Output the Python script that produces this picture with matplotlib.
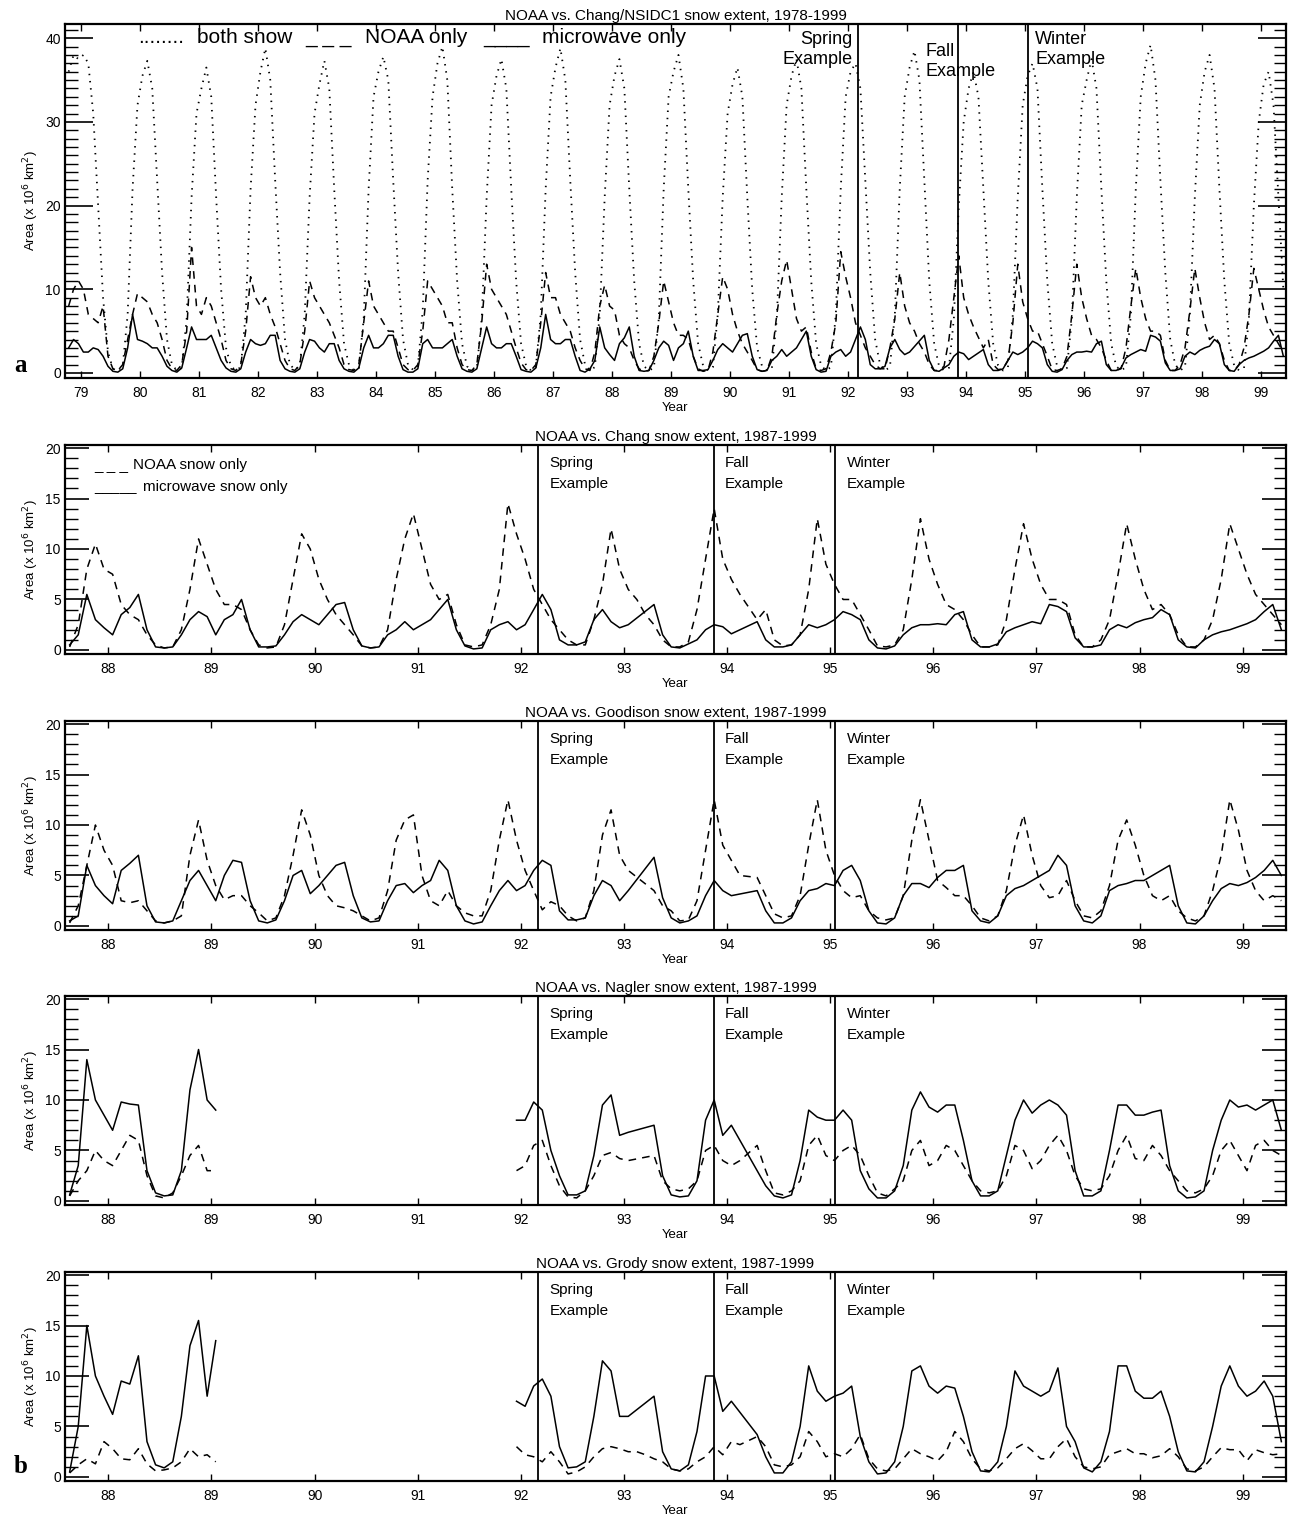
"""NOAA vs. passive-microwave snow extent, monthly series, five panels."""
import matplotlib
matplotlib.use("Agg")
import matplotlib.pyplot as plt
import numpy as np
from matplotlib.ticker import MultipleLocator

plt.rcParams["font.family"] = ["Liberation Sans", "DejaVu Sans"]

# ---- event markers (decimal year, 19xx) ----
SPRING, FALL, WINTER = 92.17, 93.87, 95.05

# ---- panel a: monthly values, Oct 1978 .. May 1999 (x 10^6 km^2) ----
BOTH_SNOW = [
    36, 38, 37.5,                                              # 1978 Oct-Dec
    38, 37, 31, 20, 9, 2.5, 0.5, 0.3, 0.8, 7, 22, 32,          # 1979
    35.5, 37.3, 34, 23, 12, 4, 1, 0.3, 0.6, 6.5, 21, 31,       # 1980
    34, 36.5, 33, 21, 10, 3, 0.8, 0.3, 0.7, 7, 22, 32,         # 1981
    36, 38.8, 35, 23, 12, 4, 1, 0.4, 0.8, 7, 21, 31,           # 1982
    34.5, 37.3, 34, 22, 11, 3.5, 1, 0.3, 0.6, 6.5, 22, 33,     # 1983
    36, 37.8, 35, 23, 12, 4, 1, 0.4, 0.7, 7.5, 23, 33,         # 1984
    37, 39, 35, 22, 11, 3.5, 0.8, 0.3, 0.6, 6.5, 21, 32,       # 1985
    35.5, 37.5, 34, 22, 11, 3.5, 0.9, 0.3, 0.7, 7, 22, 33,     # 1986
    36.5, 38.8, 35, 23, 12, 4, 1, 0.3, 0.7, 7, 21, 32,         # 1987
    35.5, 37.5, 34, 22, 11, 3.5, 0.8, 0.3, 0.6, 6.5, 22, 33,   # 1988
    36, 38, 34, 22, 11, 3.5, 0.9, 0.3, 0.7, 7, 21, 31,         # 1989
    34.5, 36.5, 33, 21, 10, 3, 0.8, 0.3, 0.6, 6.5, 21, 32,     # 1990
    35.5, 37.5, 34, 22, 11, 3.5, 0.9, 0.3, 0.7, 7, 22, 33,     # 1991
    36, 37, 34, 23, 12, 4, 1, 0.3, 0.7, 7, 22, 33,             # 1992
    36.5, 38.5, 35, 23, 11, 3.5, 0.8, 0.3, 0.6, 6.5, 20, 30,   # 1993
    34, 36, 33, 22, 11, 3.5, 0.9, 0.3, 0.7, 7, 21, 32,         # 1994
    35.5, 37, 34, 22, 11, 3.5, 0.8, 0.3, 0.6, 6.5, 21, 32,     # 1995
    35, 37.5, 34, 22, 11, 3.5, 0.8, 0.3, 0.7, 7, 22, 33,       # 1996
    37, 39.2, 35, 23, 12, 4, 1, 0.3, 0.7, 7, 21, 32,           # 1997
    36, 38, 34, 22, 11, 3.5, 0.9, 0.3, 0.6, 6.5, 20, 30,       # 1998
    34.5, 36, 32, 21, 10,                                      # 1999 Jan-May
]
# NOAA-only / microwave-only before the 1987-99 record, Oct 1978 .. Jul 1987
A_NOAA_EARLY = [
    8, 10, 11,
    10, 7, 6.5, 6, 8, 2, 0.5, 0.3, 1, 4, 7, 9.5,
    9, 8.5, 7, 6, 4, 1.5, 0.5, 0.3, 1, 5, 15, 8,
    7, 9, 8, 6, 4, 1.5, 0.5, 0.3, 1, 5, 11.5, 9,
    8, 9, 7, 5.5, 3.5, 1.5, 0.5, 0.3, 1, 5, 11, 9,
    8, 7, 6, 4.5, 3, 1, 0.4, 0.3, 1, 6, 11, 8,
    7, 6, 5, 5, 3, 1, 0.4, 0.3, 1, 5, 11, 10,
    9, 8, 6, 6, 3, 1, 0.4, 0.3, 1, 6, 13, 10,
    9, 8, 7, 5, 3, 1.2, 0.4, 0.3, 1, 6, 12, 9,
    9, 7, 6, 5, 3, 1.5, 0.5,
]
A_MW_EARLY = [
    3, 4, 3.5,
    2.5, 2.5, 3, 2.8, 2, 0.8, 0.2, 0.1, 0.5, 3, 7, 4,
    3.8, 3.5, 3, 3, 2, 0.8, 0.3, 0.1, 0.6, 3, 5.5, 4,
    4, 4, 4.5, 3, 1.5, 0.6, 0.2, 0.1, 0.5, 2.5, 4, 3.5,
    3.3, 3.5, 4.5, 4.5, 1.5, 0.5, 0.2, 0.1, 0.5, 2.5, 4, 3.8,
    3, 2.5, 3.5, 3.5, 1.5, 0.5, 0.2, 0.1, 0.6, 3, 4.5, 3,
    3, 3.5, 4.5, 4.5, 2, 0.4, 0.1, 0.1, 0.5, 3.5, 4, 3,
    3, 3, 3.5, 4, 2, 0.5, 0.2, 0.1, 0.5, 3, 5.5, 3.5,
    3, 3, 3.5, 3.5, 2, 0.4, 0.2, 0.1, 0.6, 3, 7, 4,
    3.5, 3.5, 4, 4, 2, 0.3, 0.1,
]

# ---- panels b-e: monthly values, Aug 1987 .. May 1999 (None = no data) ----
CHANG_NOAA = [
    0.3, 2.5, 8, 10.5, 8,
    7.5, 4.5, 3.5, 3, 1.5, 0.5, 0.2, 0.3, 2, 6, 11, 8.5,
    6, 4.5, 4.5, 4, 2, 0.5, 0.2, 0.3, 2.5, 7, 11.5, 10,
    7, 5, 3.5, 2.5, 1.5, 0.4, 0.2, 0.3, 2, 7, 11, 13.5,
    10, 6.5, 5, 5.5, 2.5, 0.5, 0.3, 0.5, 2.5, 6, 14.5, 11.5,
    9, 6, 4.5, 3, 2, 1, 0.5, 0.5, 3, 6.5, 12, 8,
    6, 5, 3.5, 2.5, 1, 0.3, 0.3, 0.8, 4, 9, 14, 9,
    7, 5.5, None, 3, 4, 1, 0.4, 0.5, 1.5, 6, 13, 8.5,
    6.5, 5, 5, 3.5, 2, 0.4, 0.3, 0.5, 2, 7, 13, 9,
    6.5, 4.5, 4, 3, 1.5, 0.3, 0.3, 0.5, 3, 8, 12.5, 9,
    6.5, 5, 5, 4.5, 1.5, 0.3, 0.3, 1, 3, 7.5, 12.5, 9,
    6, 4, 4.5, 3.5, 1.5, 0.3, 0.3, 1, 3, 7, 12.5, 10,
    7.5, 5.5, 4.5, 3.5, 2.5,
]
CHANG_MW = [
    0.5, 1.5, 5.5, 3, 2.2,
    1.5, 3.5, 4.2, 5.5, 2, 0.3, 0.2, 0.3, 1.5, 3, 3.8, 3.3,
    1.5, 3, 3.5, 5, 2, 0.3, 0.3, 0.4, 1.5, 2.8, 3.5, 3,
    2.5, 3.5, 4.5, 4.7, 2, 0.4, 0.2, 0.3, 1.5, 2, 2.8, 2,
    2.5, 3, 4, 5, 2, 0.4, 0.1, 0.2, 2, 2.5, 2.8, 2,
    2.5, 4, 5.5, 4, 1, 0.5, 0.5, 0.8, 3, 4, 2.8, 2.2,
    2.5, None, None, 4.5, 1.5, 0.3, 0.2, 0.6, 1, 2, 2.5, 2.3,
    1.6, None, None, 2.8, 1, 0.3, 0.3, 0.5, 1.5, 2.5, 2.2, 2.5,
    3, 3.8, 3.5, 3, 1, 0.2, 0.1, 0.4, 1.5, 2.2, 2.5, 2.5,
    2.6, 2.5, 3.5, 3.8, 1, 0.3, 0.3, 0.6, 1.8, 2.2, 2.5, 2.8,
    2.6, 4.5, 4.3, 3.8, 1.2, 0.3, 0.3, 0.5, 2, 2.5, 2.2, 2.7,
    3, 3.2, 4, 3.5, 1, 0.3, 0.2, 1, 1.5, 1.8, 2, 2.3,
    2.6, 3, 3.8, 4.5, 2,
]
GOOD_NOAA = [
    0.3, 2, 6, 10, 7.5,
    6, 2.5, 2.3, 2.5, 1.5, 0.5, 0.3, 0.5, 1, 7, 10.5, 6.5,
    4, 2.6, 3, 3, 2, 1.3, 0.5, 0.8, 3, 7, 11.5, 9,
    5, 3, 2, 1.8, 1.5, 1, 0.5, 0.8, 3.5, 8.5, 10.5, 11,
    5, 2.5, 2, 3.5, 2, 1.3, 1, 1, 3.5, 8.5, 12.5, 8.5,
    5.5, 3.5, 1.6, 2.4, 2, 1, 0.5, 0.8, 3.5, 9, 11.5, 7,
    5.5, None, None, 3.5, 2, 1.5, 0.5, 0.6, 2.5, 7.5, 12.5, 8,
    6.5, 5, None, 4.8, 3, 1.2, 0.8, 1, 3, 8, 12.5, 7.5,
    5, 3.5, 2.8, 3, 1.5, 0.8, 0.6, 0.8, 3, 8.5, 12.5, 8.5,
    4.5, 3.8, 3, 3, 2, 0.8, 0.5, 1, 3.5, 8, 11, 7,
    4, 2.8, 3, 4.5, 2.5, 1, 0.8, 1.5, 4, 8.5, 10.5, 8,
    5, 3, 2.5, 3, 1.5, 0.8, 0.5, 1, 3.5, 7, 12.5, 9.5,
    5.5, 3.5, 2.5, 3, 2.5,
]
GOOD_MW = [
    0.5, 1, 6, 4, 3,
    2.2, 5.5, 6.2, 7, 2, 0.4, 0.3, 0.5, 2.5, 4.5, 5.5, 4,
    2.5, 5, 6.5, 6.3, 2.5, 0.5, 0.3, 0.6, 2.5, 5, 5.5, 3.2,
    4, 5, 6, 6.3, 3, 0.8, 0.4, 0.5, 2.5, 4, 4.2, 3.3,
    4, 4.5, 6.5, 5.5, 2, 0.5, 0.2, 0.4, 2, 3.5, 4.5, 3.5,
    4, 5.5, 6.5, 6, 1.5, 0.6, 0.6, 0.8, 3, 4.5, 4, 2.5,
    3.5, None, None, 6.8, 2.8, 0.8, 0.3, 0.5, 1, 3, 4.5, 3.5,
    3, None, None, 3.5, 1.5, 0.3, 0.3, 0.8, 2.5, 3.5, 3.7, 4.2,
    4, 5.5, 6, 4.5, 1.5, 0.3, 0.2, 0.8, 3, 4.2, 4.2, 3.8,
    4.8, 5.5, 5.5, 6, 1.5, 0.5, 0.3, 1, 3, 3.7, 4, 4.5,
    5, 5.5, 7, 6, 2, 0.5, 0.3, 1, 3.5, 4, 4.2, 4.5,
    4.5, 5, 5.5, 6, 2, 0.3, 0.2, 1, 2.5, 3.7, 4.2, 4,
    4.3, 4.8, 5.5, 6.5, 5,
]
# Nagler and Grody: Aug 1987 .. Jan 1989, then Dec 1991 .. May 1999
NAGLER_NOAA_EARLY = [0.5, 2, 3, 5, 4,
                     3.5, 5, 6.5, 6, 2.5, 0.5, 0.3, 0.8, 2.5, 4.5, 5.5, 3,
                     3]
NAGLER_MW_EARLY = [0.6, 3.5, 14, 10, 8.5,
                   7, 9.8, 9.6, 9.5, 3, 0.8, 0.5, 0.6, 3, 11, 15, 10,
                   9]
NAGLER_NOAA_LATE = [
    3,
    3.5, 5.5, 6, 3.5, 1.5, 0.4, 0.3, 1, 2.5, 4.5, 4.8, 4.2,
    4, None, None, 4.5, 2, 1.2, 1, 1.2, 2, 5, 5.5, 4,
    3.5, 4, None, 5.5, 3, 0.8, 0.6, 1, 2, 5.5, 6.5, 4.5,
    4, 5, 5.5, 4.5, 2.5, 0.8, 0.5, 1.2, 2, 5, 6, 3.5,
    4, 5.5, 5, 3.5, 2, 1, 0.8, 1, 2.5, 5.5, 5, 3.2,
    4, 5.5, 6.5, 5, 2.5, 1.2, 1, 1.2, 2.5, 5, 6.5, 4.2,
    4, 5.5, 4.5, 3, 2, 1, 0.8, 1.2, 2.5, 5, 6, 4.5,
    3, 5.5, 6, 5, 4.5,
]
NAGLER_MW_LATE = [
    8,
    8, 9.8, 9, 5, 2.5, 0.6, 0.6, 1, 4.5, 9.5, 10.5, 6.5,
    6.8, None, None, 7.5, 2.5, 0.6, 0.4, 0.5, 2, 8, 10, 6.5,
    7.5, None, None, None, 1.5, 0.5, 0.3, 0.6, 4, 9, 8.3, 8,
    8, 9, 8, 3, 1.2, 0.3, 0.3, 1, 3.5, 9, 10.8, 9.3,
    8.8, 9.5, 9.5, 6, 2, 0.5, 0.5, 1, 4.5, 8, 10, 8.7,
    9.5, 10, 9.5, 8.5, 3, 0.5, 0.5, 1, 5, 9.5, 9.5, 8.5,
    8.5, 8.8, 9, 3.5, 1, 0.3, 0.4, 1, 5, 8, 10, 9.3,
    9.5, 9, 9.5, 10, 7,
]
GRODY_NOAA_EARLY = [0.4, 1.2, 1.8, 1.3, 3.5,
                    2.8, 1.8, 1.7, 2.8, 1.3, 0.6, 0.7, 0.9, 1.5, 2.8, 2, 2.2,
                    1.5]
GRODY_MW_EARLY = [0.5, 5, 15, 10, 8,
                  6.2, 9.5, 9.2, 12, 3.5, 1.2, 0.9, 1.5, 6, 13, 15.5, 8,
                  13.5]
GRODY_NOAA_LATE = [
    3,
    2.2, 2, 1.5, 2.5, 1.5, 0.3, 0.5, 1, 2, 2.8, 3, 2.8,
    2.5, 2.5, 2.2, 1.8, 1.5, 0.8, 0.6, 0.8, 1.5, 2, 3, 2.2,
    3.5, 3.2, None, 4, 3, 1.2, 1, 1.2, 2, 4.5, 3.5, 2,
    2.3, 2, 2.8, 4.2, 1.8, 0.8, 0.6, 0.8, 1.8, 2.8, 2.3, 2,
    1.6, 2.5, 4.5, 3.5, 1.8, 0.8, 0.6, 0.9, 1.8, 2.8, 3.3, 2.6,
    1.8, 1.8, 3, 3.8, 2, 1, 0.8, 1, 2.2, 2.5, 2.8, 2.3,
    2.3, 1.9, 2.1, 2.8, 2, 0.8, 0.6, 1, 2, 2.9, 2.7, 2.7,
    1.6, 2.7, 2.4, 2.2, 2.3,
]
GRODY_MW_LATE = [
    7.5,
    7, 9, 9.7, 8, 3, 0.9, 1, 1.5, 6, 11.5, 10.5, 6,
    6, None, None, 8, 2.5, 0.8, 0.6, 1.2, 4.5, 10, 10, 6.5,
    7.5, None, None, 4.2, 2, 0.4, 0.4, 1.5, 5, 11, 8.5, 7.5,
    8, 8.3, 9, 4, 1.5, 0.3, 0.4, 1.5, 5, 10.5, 11, 9,
    8.3, 9, 8.8, 6, 2.5, 0.6, 0.5, 1.5, 5, 10.5, 9, 8.5,
    8, 8.5, 10.8, 5, 3.5, 0.9, 0.5, 1.5, 4.5, 11, 11, 8.5,
    7.8, 7.8, 8.5, 6, 2.5, 0.6, 0.5, 1.5, 5, 9, 11, 9,
    8, 8.5, 9.5, 8, 3.5,
]

# series start (decimal year of first month's start)
START_A = 78 + 9 / 12     # Oct 1978
START_B = 87 + 7 / 12     # Aug 1987
START_LATE = 91 + 11 / 12  # Dec 1991

YEARS_A = list(range(79, 100))
YEARS_B = list(range(88, 100))

DOT = dict(color="black", lw=1.3, ls=(0, (0.8, 3.2)))
DASH = dict(color="black", lw=1.1, ls=(0, (5, 4)))
SOLID = dict(color="black", lw=1.1)


def monthly(start, values):
    """Month-centred times; months with no data are skipped (line joins)."""
    v = np.array([np.nan if x is None else x for x in values], float)
    t = start + (np.arange(len(v)) + 0.5) / 12
    keep = ~np.isnan(v)
    return t[keep], v[keep]


def style_axis(ax, xlim, ylim, ymajor, years, long_tick):
    ax.set_xlim(*xlim)
    ax.set_ylim(*ylim)
    ax.set_xticks(years)
    ax.set_xticklabels([f"{y:02d}" for y in years])
    ax.yaxis.set_major_locator(MultipleLocator(ymajor))
    ax.yaxis.set_minor_locator(MultipleLocator(1))
    ax.tick_params(axis="y", which="major", direction="in", length=long_tick,
                   width=1.2, left=True, right=True, labelsize=10, pad=3)
    ax.tick_params(axis="y", which="minor", direction="in", length=9,
                   width=1.0, left=True, right=True)
    ax.tick_params(axis="x", which="major", direction="in", length=5,
                   width=1.0, top=True, bottom=True, labelsize=10, pad=6)
    for sp in ax.spines.values():
        sp.set_linewidth(1.6)
    ax.set_ylabel("Area (x 10$^6$ km$^2$)", fontsize=9.5, labelpad=3)
    ax.set_xlabel("Year", fontsize=9.5, labelpad=1)


def event_lines(ax):
    for x in (SPRING, FALL, WINTER):
        ax.axvline(x, color="black", lw=1.3)


fig = plt.figure(figsize=(12.94, 15.15), dpi=100)
L, W = 65 / 1294, (1286 - 65) / 1294

# ---- panel a ----
ax = fig.add_axes([L, 1 - 378 / 1515, W, (378 - 24) / 1515])
t, v = monthly(START_A, BOTH_SNOW)
ax.plot(t, v, **DOT)
t, v = monthly(START_A, A_NOAA_EARLY + CHANG_NOAA)
ax.plot(t, v, **DASH)
t, v = monthly(START_A, A_MW_EARLY + CHANG_MW)
ax.plot(t, v, **SOLID)
event_lines(ax)
style_axis(ax, (78.73, 99.42), (-0.6, 41.7), 10, YEARS_A, 20)
ax.set_title("NOAA vs. Chang/NSIDC1 snow extent, 1978-1999", fontsize=11, pad=3)
for xf, s in [(0.0598, "........"), (0.108, "both snow"), (0.1966, "_ _ _"),
              (0.2457, "NOAA only"), (0.3423, "____"), (0.391, "microwave only")]:
    ax.text(xf, 0.963, s, transform=ax.transAxes, fontsize=15, va="center")
ax.annotate("Spring\nExample", xy=(SPRING, 1), xycoords=("data", "axes fraction"),
            xytext=(-4, -5), textcoords="offset points", ha="right", va="top",
            fontsize=13, linespacing=1.2)
ax.annotate("Fall\nExample", xy=(FALL, 1), xycoords=("data", "axes fraction"),
            xytext=(-24, -14), textcoords="offset points", ha="left", va="top",
            fontsize=13, linespacing=1.2)
ax.annotate("Winter\nExample", xy=(WINTER, 1), xycoords=("data", "axes fraction"),
            xytext=(5, -5), textcoords="offset points", ha="left", va="top",
            fontsize=13, linespacing=1.2)

# ---- panels b-e ----
PANELS = [
    ("NOAA vs. Chang snow extent, 1987-1999", 445,
     [(START_B, CHANG_NOAA, CHANG_MW)]),
    ("NOAA vs. Goodison snow extent, 1987-1999", 721,
     [(START_B, GOOD_NOAA, GOOD_MW)]),
    ("NOAA vs. Nagler snow extent, 1987-1999", 996,
     [(START_B, NAGLER_NOAA_EARLY, NAGLER_MW_EARLY),
      (START_LATE, NAGLER_NOAA_LATE, NAGLER_MW_LATE)]),
    ("NOAA vs. Grody snow extent, 1987-1999", 1272,
     [(START_B, GRODY_NOAA_EARLY, GRODY_MW_EARLY),
      (START_LATE, GRODY_NOAA_LATE, GRODY_MW_LATE)]),
]
for i, (title, top, segments) in enumerate(PANELS):
    ax = fig.add_axes([L, 1 - (top + 209) / 1515, W, 209 / 1515])
    for start, noaa, mw in segments:
        t, v = monthly(start, noaa)
        ax.plot(t, v, **DASH)
        t, v = monthly(start, mw)
        ax.plot(t, v, **SOLID)
    event_lines(ax)
    style_axis(ax, (87.58, 99.42), (-0.4, 20.3), 5, YEARS_B, 17)
    ax.set_title(title, fontsize=11, pad=3)
    for x, name in [(SPRING, "Spring"), (FALL, "Fall"), (WINTER, "Winter")]:
        ax.annotate(f"{name}\nExample", xy=(x, 1), xycoords=("data", "axes fraction"),
                    xytext=(8, -8), textcoords="offset points", ha="left",
                    va="top", fontsize=11, linespacing=1.6)
    if i == 0:
        ax.text(0.024, 0.906, "_ _ _", transform=ax.transAxes, fontsize=11, va="center")
        ax.text(0.056, 0.906, "NOAA snow only", transform=ax.transAxes,
                fontsize=11, va="center")
        ax.text(0.024, 0.80, "_____", transform=ax.transAxes, fontsize=11, va="center")
        ax.text(0.064, 0.80, "microwave snow only", transform=ax.transAxes,
                fontsize=11, va="center")

fig.text(14 / 1294, 1 - 372 / 1515, "a", fontsize=18, fontweight="bold",
         family=["Liberation Serif", "DejaVu Serif"], va="baseline")
fig.text(14 / 1294, 1 - 1473 / 1515, "b", fontsize=18, fontweight="bold",
         family=["Liberation Serif", "DejaVu Serif"], va="baseline")

fig.savefig("out.png", dpi=100)
plt.close(fig)
